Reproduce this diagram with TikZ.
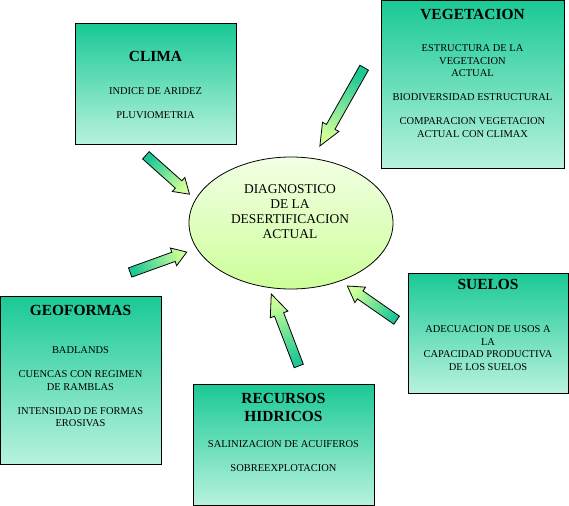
\documentclass[tikz,border=0pt]{standalone}
\usepackage{fontspec}
\setmainfont{Liberation Serif}
\usetikzlibrary{calc,positioning,shapes.geometric,shapes.arrows}
\definecolor{boxtop}{RGB}{26,201,150}
\definecolor{boxbot}{RGB}{184,242,222}
\definecolor{elltop}{RGB}{242,255,228}
\definecolor{ellbot}{RGB}{204,255,153}
\definecolor{arrtail}{RGB}{30,200,150}
\definecolor{arrtip}{RGB}{206,255,153}
\tikzset{
  factor/.style={
    draw=black,
    line width=1pt,
    top color=boxtop,
    bottom color=boxbot,
    inner sep=0pt
  },
  centro/.style={
    ellipse,
    draw=black,
    line width=0.8pt,
    top color=elltop,
    bottom color=ellbot,
    minimum width=204bp,
    minimum height=132bp,
    inner sep=0pt
  },
  flecha/.style={
    single arrow,
    draw=black,
    line width=0.8pt,
    top color=arrtip,
    bottom color=arrtail,
    text height=4.5bp,
    text depth=4.5bp,
    text width=0pt,
    single arrow head extend=4.5bp,
    inner sep=0pt
  },
  ttl/.style={font=\fontsize{15.5}{18}\selectfont\bfseries, inner sep=0pt, align=center},
  lbl/.style={font=\fontsize{10.5}{12.5}\selectfont, inner sep=0pt, align=center},
  dtxt/.style={font=\fontsize{13.5}{15.3}\selectfont, inner sep=0pt, align=center},
}
\newcommand{\FlowArrow}[4]{%
  \path let \p1=($(#3)-(#2)$), \n1={atan2(\y1,\x1)}, \n2={veclen(\x1,\y1)}, \n3={\n1-90} in
    node[flecha, minimum height=\n2, rotate=\n1, shading angle=\n3,
         single arrow tip angle={2*atan(9/#4)}] (#1) at ($(#2)!0.5!(#3)$) {};
}

\begin{document}
\begin{tikzpicture}[x=1bp,y=1bp]
  \useasboundingbox (0,0) rectangle (569,-506);
  % centro
  \node[centro] (diag) at (291,-223) {};
  \node[dtxt] (diagT) at ($(diag.center)+(-1,11.5)$)
    {DIAGNOSTICO\\DE LA\\DESERTIFICACION\\ACTUAL};
  % clima
  \node[factor, minimum width=161bp, minimum height=120bp] (clima) at (155.5,-84) {};
  \node[ttl] (climaT) at ($(clima.north)+(0,-33)$) {CLIMA};
  \node[lbl] (climaB) at ($(clima.north)+(0,-79.5)$)
    {INDICE DE ARIDEZ\\[11.5bp]PLUVIOMETRIA};
  % vegetacion
  \node[factor, minimum width=183bp, minimum height=167bp] (veget) at (472.5,-84.5) {};
  \node[ttl] (vegetT) at ($(veget.north)+(0,-14)$) {VEGETACION};
  \node[lbl] (vegetB) at ($(veget.north)+(0,-90.5)$)
    {ESTRUCTURA DE LA\\VEGETACION\\ACTUAL\\[11.5bp]BIODIVERSIDAD ESTRUCTURAL\\[11.5bp]COMPARACION VEGETACION\\ACTUAL CON CLIMAX};
  % geoformas
  \node[factor, minimum width=161bp, minimum height=168bp] (geof) at (80.5,-380) {};
  \node[ttl] (geofT) at ($(geof.north)+(0,-15)$) {GEOFORMAS};
  \node[lbl] (geofB) at ($(geof.north)+(0,-91.5)$)
    {BADLANDS\\[11.5bp]CUENCAS CON REGIMEN\\DE RAMBLAS\\[11.5bp]INTENSIDAD DE FORMAS\\EROSIVAS};
  % recursos hidricos
  \node[factor, minimum width=181bp, minimum height=121bp] (recur) at (283.5,-444.5) {};
  \node[ttl] (recurT) at ($(recur.north)+(0,-24)$) {RECURSOS\\HIDRICOS};
  \node[lbl] (recurB) at ($(recur.north)+(0,-72.5)$)
    {SALINIZACION DE ACUIFEROS\\[11.5bp]SOBREEXPLOTACION};
  % suelos
  \node[factor, minimum width=160bp, minimum height=120bp] (suelo) at (488,-333) {};
  \node[ttl] (sueloT) at ($(suelo.north)+(0,-12)$) {SUELOS};
  \node[lbl] (sueloB) at ($(suelo.north)+(0,-75.5)$)
    {ADECUACION DE USOS A\\LA\\CAPACIDAD PRODUCTIVA\\DE LOS SUELOS};
  % flechas
  \coordinate (climaA) at (143,-152.7);   \coordinate (climaZ) at (186.7,-191.7);
  \coordinate (vegetA) at (367,-62.7);    \coordinate (vegetZ) at (322.7,-141);
  \coordinate (geofA)  at (126.7,-273.7); \coordinate (geofZ)  at (183.3,-253.3);
  \coordinate (recurA) at (300.8,-371.3); \coordinate (recurZ) at (273.3,-299.3);
  \coordinate (sueloA) at (400,-322.5);   \coordinate (sueloZ) at (350.7,-288.3);
  \FlowArrow{flClima}{climaA}{climaZ}{14}
  \FlowArrow{flVeget}{vegetA}{vegetZ}{21}
  \FlowArrow{flGeof}{geofA}{geofZ}{13.5}
  \FlowArrow{flRecur}{recurA}{recurZ}{21}
  \FlowArrow{flSuelo}{sueloA}{sueloZ}{15}
\end{tikzpicture}
\end{document}
